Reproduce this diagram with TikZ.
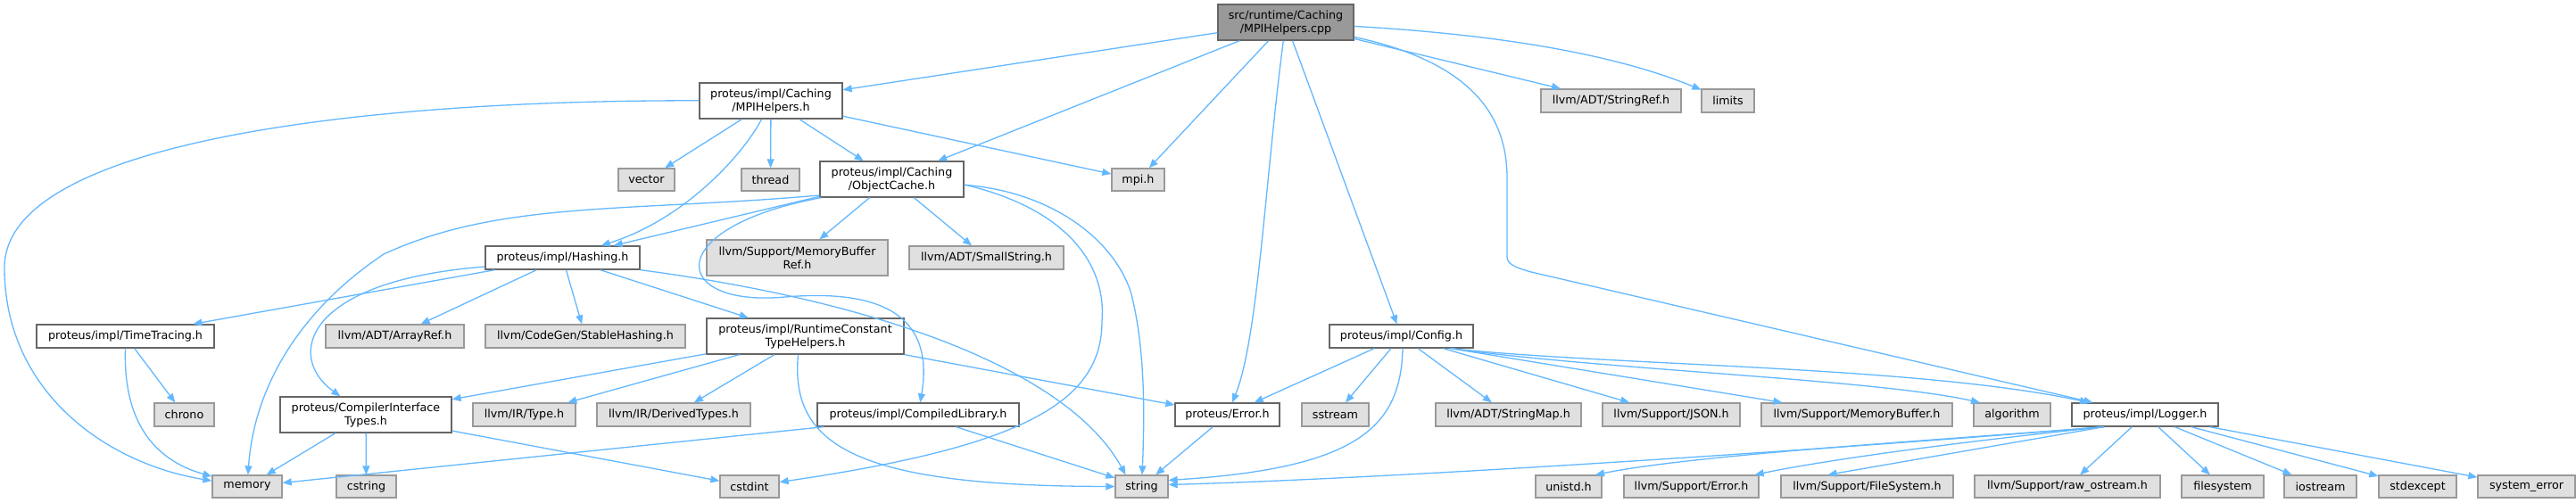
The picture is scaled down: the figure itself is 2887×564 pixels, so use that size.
\documentclass[tikz,border=0pt]{standalone}
\usepackage{fontspec}
\setmainfont{DejaVu Sans}
\usetikzlibrary{arrows.meta,calc}
\definecolor{edgec}{HTML}{63B8FF}
\definecolor{bordA}{HTML}{666666}
\definecolor{bordB}{HTML}{999999}
\definecolor{fillsys}{HTML}{E0E0E0}
\definecolor{fillmain}{HTML}{999999}
\begin{document}
\begin{tikzpicture}[x=1pt,y=-1pt,
  every node/.style={font=\fontsize{12.7}{15}\selectfont, inner sep=0pt, align=center},
  hdr/.style={draw=bordA, fill=white, line width=1.3pt},
  sys/.style={draw=bordB, fill=fillsys, line width=1.3pt},
  root/.style={draw=bordA, fill=fillmain, line width=1.3pt},
  sz/.style 2 args={minimum width=#1pt, minimum height=#2pt},
  edge/.style={draw=edgec, line width=1.3pt, -{Triangle[length=10pt,width=8pt]}},
]
\fill[white] (0,0) rectangle (2887,564);
\useasboundingbox (0,0) rectangle (2887,564);

% row 0
\node[root,sz={152}{40}] (main) at (1441,25) {src/runtime/Caching\\/MPIHelpers.cpp};
% row 1
\node[hdr,sz={160}{40}] (mpih) at (864,113) {proteus/impl/Caching\\/MPIHelpers.h};
\node[sys,sz={157}{26}] (stringref) at (1805.5,113) {llvm/ADT/StringRef.h};
\node[sys,sz={59}{26}] (limits) at (1936.5,113) {limits};
% row 2
\node[sys,sz={63}{25}] (vector) at (724.5,201.5) {vector};
\node[sys,sz={65}{25}] (thread) at (863.5,201.5) {thread};
\node[hdr,sz={161}{40}] (objcache) at (999.5,201) {proteus/impl/Caching\\/ObjectCache.h};
\node[sys,sz={59}{25}] (mpi) at (1275.5,201.5) {mpi.h};
% row 3
\node[hdr,sz={173}{26}] (hashing) at (630.5,289) {proteus/impl/Hashing.h};
\node[sys,sz={203}{40}] (membufref) at (893.5,289) {llvm/Support/MemoryBuffer\\Ref.h};
\node[sys,sz={173}{26}] (smallstring) at (1105.5,289) {llvm/ADT/SmallString.h};
% row 4
\node[hdr,sz={199}{26}] (timetracing) at (140.5,377) {proteus/impl/TimeTracing.h};
\node[sys,sz={155}{26}] (arrayref) at (442.5,377) {llvm/ADT/ArrayRef.h};
\node[sys,sz={224}{26}] (stablehashing) at (656,377) {llvm/CodeGen/StableHashing.h};
\node[hdr,sz={221}{40}] (rtc) at (902.5,377) {proteus/impl/RuntimeConstant\\TypeHelpers.h};
\node[hdr,sz={161}{26}] (config) at (1570.5,377) {proteus/impl/Config.h};
% row 5
\node[sys,sz={67}{26}] (chrono) at (206.5,465) {chrono};
\node[hdr,sz={192}{40}] (cit) at (410,465) {proteus/CompilerInterface\\Types.h};
\node[sys,sz={115}{26}] (typeh) at (587.5,465) {llvm/IR/Type.h};
\node[sys,sz={172}{26}] (derived) at (755,465) {llvm/IR/DerivedTypes.h};
\node[hdr,sz={226}{26}] (complib) at (1029,465) {proteus/impl/CompiledLibrary.h};
\node[hdr,sz={117}{26}] (errorh) at (1375.5,465) {proteus/Error.h};
\node[sys,sz={75}{26}] (sstream) at (1496.5,465) {sstream};
\node[sys,sz={163}{26}] (stringmap) at (1690.5,465) {llvm/ADT/StringMap.h};
\node[sys,sz={154}{26}] (json) at (1873,465) {llvm/Support/JSON.h};
\node[sys,sz={214}{26}] (membuf) at (2081,465) {llvm/Support/MemoryBuffer.h};
\node[sys,sz={86}{26}] (algorithm) at (2255,465) {algorithm};
\node[hdr,sz={164}{26}] (logger) at (2404,465) {proteus/impl/Logger.h};
% row 6
\node[sys,sz={78}{25}] (memory) at (277,545.5) {memory};
\node[sys,sz={67}{25}] (cstring) at (410.5,545.5) {cstring};
\node[sys,sz={66}{25}] (cstdint) at (840,545.5) {cstdint};
\node[sys,sz={59}{25}] (string) at (1279.5,545.5) {string};
\node[sys,sz={74}{25}] (unistd) at (1758,545.5) {unistd.h};
\node[sys,sz={151}{25}] (supporterror) at (1895.5,545.5) {llvm/Support/Error.h};
\node[sys,sz={193}{25}] (filesystemh) at (2092.5,545.5) {llvm/Support/FileSystem.h};
\node[sys,sz={208}{25}] (rawostream) at (2317,545.5) {llvm/Support/raw\_ostream.h};
\node[sys,sz={92}{25}] (filesystem) at (2491,545.5) {filesystem};
\node[sys,sz={81}{25}] (iostream) at (2600.5,545.5) {iostream};
\node[sys,sz={87}{25}] (stdexcept) at (2709.5,545.5) {stdexcept};
\node[sys,sz={109}{25}] (syserr) at (2831.5,545.5) {system\_error};

% edges from main
\draw[edge] (main) -- (mpih);
\draw[edge] (main) -- (objcache);
\draw[edge] (main) -- (mpi);
\draw[edge] (main) .. controls (1418,200) and (1410,380) .. (errorh);
\draw[edge] (main) -- (config);
\draw[edge] (main) .. controls (1650,70) and (1689,130) .. (1689,200) -- (1689,288) .. controls (1689,296) and (1698,300) .. (1716,305) -- (logger);
\draw[edge] (main) -- (stringref);
\draw[edge] (main) .. controls (1700,40) and (1820,65) .. (limits);
% MPIHelpers.h
\draw[edge] (mpih) .. controls (400,112) and (5,160) .. (5,300) .. controls (5,440) and (120,520) .. (memory);
\draw[edge] (mpih) -- (vector);
\draw[edge] (mpih) -- (thread);
\draw[edge] (mpih) -- (objcache);
\draw[edge] (mpih) -- (mpi);
\draw[edge] (mpih) .. controls (835,170) and (770,245) .. (hashing);
% ObjectCache.h
\draw[edge] (objcache) -- (hashing);
\draw[edge] ([yshift=-18pt]objcache.west) .. controls (700,238) and (560,225) .. (430,285) .. controls (340,345) and (285,430) .. (memory);
\draw[edge] ([xshift=2pt]objcache.south west) .. controls (740,255) and (750,345) .. (880,333) .. controls (1010,322) and (1045,370) .. (complib);
\draw[edge] (objcache) -- (membufref);
\draw[edge] (objcache) -- (smallstring);
\draw[edge] (objcache) .. controls (1180,215) and (1250,270) .. (1268,330) .. controls (1283,390) and (1283,460) .. (string);
\draw[edge] ([yshift=-6pt]objcache.east) .. controls (1200,235) and (1240,300) .. (1235,360) .. controls (1235,450) and (1150,500) .. (cstdint);
% Hashing.h
\draw[edge] (hashing) -- (timetracing);
\draw[edge] ([yshift=-10pt]hashing.west) .. controls (340,315) and (320,400) .. (cit);
\draw[edge] (hashing) -- (arrayref);
\draw[edge] (hashing) -- (stablehashing);
\draw[edge] (hashing) -- (rtc);
\draw[edge] (hashing.south east) .. controls (1000,340) and (1200,420) .. ([xshift=-18pt]string.north);
% RuntimeConstantTypeHelpers.h
\draw[edge] (rtc) -- (cit);
\draw[edge] (rtc) -- (typeh);
\draw[edge] (rtc) -- (derived);
\draw[edge] (rtc) -- (errorh);
\draw[edge] ([xshift=-8pt]rtc.south) .. controls (885,500) and (960,545) .. (string.west);
% others
\draw[edge] (cit) -- (memory);
\draw[edge] (cit) -- (cstring);
\draw[edge] (cit) -- (cstdint);
\draw[edge] (timetracing) -- (chrono);
\draw[edge] (timetracing.south) .. controls (138,470) and (170,515) .. (memory);
\draw[edge] ([xshift=-106pt]complib.south) -- (memory);
\draw[edge] (complib) -- (string);
\draw[edge] (errorh) -- (string);
% Config.h
\draw[edge] (config) -- (errorh);
\draw[edge] (config) -- (sstream);
\draw[edge] ([xshift=1.5pt]config.south) .. controls (1570,480) and (1520,525) .. ([yshift=7pt]string.east);
\draw[edge] (config) -- (stringmap);
\draw[edge] (config) -- (json);
\draw[edge] ([xshift=55pt]config.south) -- (membuf);
\draw[edge] ([xshift=55pt]config.south) .. controls (1800,415) and (2100,425) .. ([xshift=-36pt]algorithm.north);
\draw[edge] ([xshift=55pt]config.south) .. controls (1800,410) and (2150,410) .. ([xshift=-63pt]logger.north);
% Logger.h
\draw[edge] ([xshift=-46pt]logger.south) .. controls (2100,500) and (1600,535) .. ([yshift=2pt]string.east);
\draw[edge] ([xshift=-46pt]logger.south) .. controls (2150,495) and (1900,510) .. ([xshift=30pt]unistd.north);
\draw[edge] ([xshift=-46pt]logger.south) .. controls (2200,495) and (2050,515) .. ([xshift=-5pt]supporterror.north east);
\draw[edge] ([xshift=-46pt]logger.south) -- ([xshift=-44pt]filesystemh.north);
\draw[edge] (logger) -- (rawostream);
\draw[edge] (logger) -- (filesystem);
\draw[edge] (logger) -- (iostream);
\draw[edge] (logger) -- (stdexcept);
\draw[edge] (logger) -- (syserr);
\end{tikzpicture}
\end{document}
